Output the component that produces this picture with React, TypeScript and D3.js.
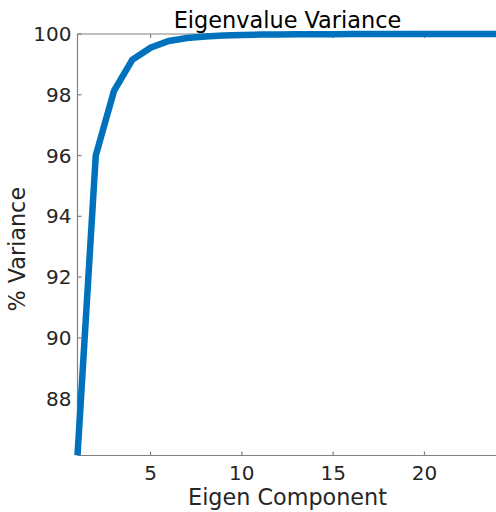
import React from "react";
import * as d3 from "d3";

const components = [1, 2, 3, 4, 5, 6, 7, 8, 9, 10, 11, 12, 13, 14, 15, 16, 17, 18, 19, 20, 21, 22, 23, 24];
const variance = [86.13, 96.0, 98.13, 99.15, 99.55, 99.77, 99.87, 99.92, 99.95, 99.97, 99.98, 99.985, 99.99, 99.993, 99.995, 99.997, 99.998, 99.999, 99.999, 100, 100, 100, 100, 100];
const xTicks = [5, 10, 15, 20];
const yTicks = [88, 90, 92, 94, 96, 98, 100];

export default function App() {
  const W = 496, H = 512;
  const left = 77.5, right = 497.5, top = 34, bottom = 455.5;
  const x = d3.scaleLinear().domain([1, 24]).range([left, right]);
  const y = d3.scaleLinear().domain([86.13, 100]).range([bottom, top]);
  const line = d3.line<number>().x((_, i) => x(components[i])).y((d) => y(d));
  const font = "DejaVu Sans, sans-serif";
  const axisColor = "#808080";
  const textColor = "#262626";
  return (
    <svg width={W} height={H} style={{ position: "absolute", left: 0, top: 0, background: "#fff" }}>
      <defs>
        <clipPath id="clip">
          <rect x={left - 4} y={top - 4} width={right - left + 8} height={bottom - top + 4} />
        </clipPath>
      </defs>
      <line x1={left} x2={right} y1={bottom} y2={bottom} stroke={axisColor} strokeWidth={1.2} />
      <line x1={left} x2={right} y1={top} y2={top} stroke={axisColor} strokeWidth={1.2} />
      <line x1={left} x2={left} y1={top} y2={bottom} stroke={axisColor} strokeWidth={1.2} />
      {xTicks.map((t) => (
        <g key={"x" + t}>
          <line x1={x(t)} x2={x(t)} y1={bottom} y2={bottom - 4} stroke={axisColor} strokeWidth={1.2} />
          <line x1={x(t)} x2={x(t)} y1={top} y2={top + 4} stroke={axisColor} strokeWidth={1.2} />
          <text x={x(t)} y={480} textAnchor="middle" fontFamily={font} fontSize={20} fill={textColor}>
            {t}
          </text>
        </g>
      ))}
      {yTicks.map((t) => (
        <g key={"y" + t}>
          <line x1={left} x2={left + 4} y1={y(t)} y2={y(t)} stroke={axisColor} strokeWidth={1.2} />
          <text x={left - 6} y={y(t)} dy="0.35em" textAnchor="end" fontFamily={font} fontSize={20} fill={textColor}>
            {t}
          </text>
        </g>
      ))}
      <path
        d={line(variance) || ""}
        fill="none"
        stroke="#0072BD"
        strokeWidth={6.5}
        strokeLinejoin="miter"
        clipPath="url(#clip)"
      />
      <text x={(left + right) / 2} y={27.7} textAnchor="middle" fontFamily={font} fontSize={22.4} fill="#000">
        Eigenvalue Variance
      </text>
      <text x={(left + right) / 2} y={505} textAnchor="middle" fontFamily={font} fontSize={22.3} fill={textColor}>
        Eigen Component
      </text>
      <text
        transform={`translate(25, 249.2) rotate(-90)`}
        textAnchor="middle"
        fontFamily={font}
        fontSize={22.3}
        fill={textColor}
      >
        % Variance
      </text>
    </svg>
  );
}
